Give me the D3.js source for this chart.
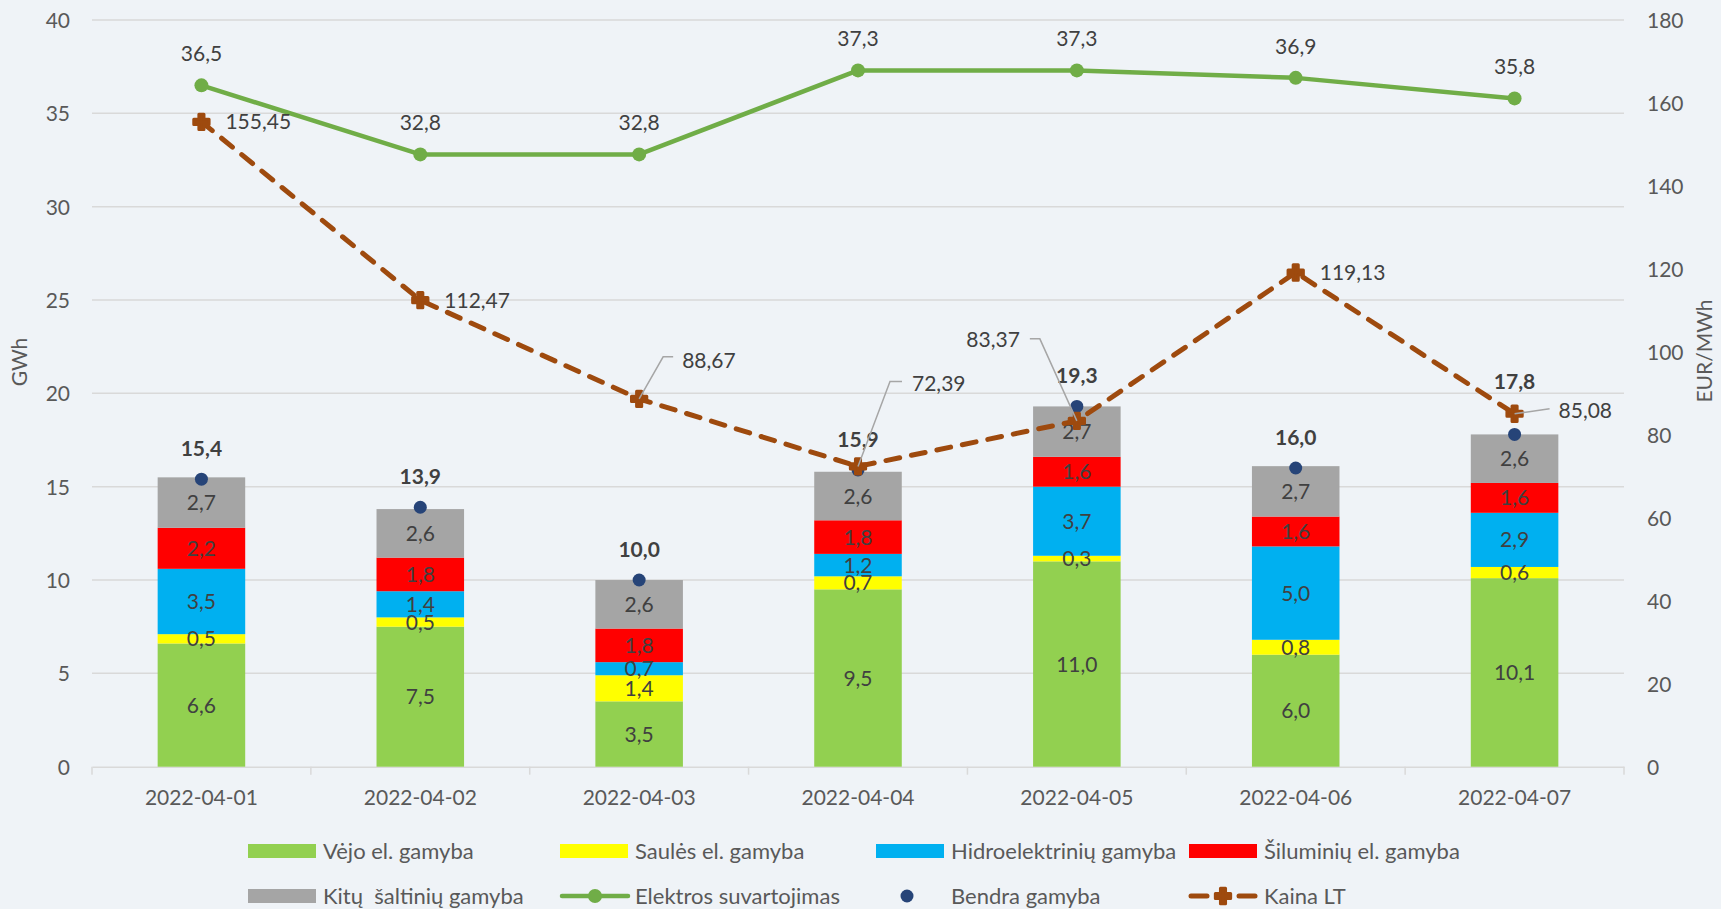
<!DOCTYPE html>
<html>
<head>
<meta charset="utf-8">
<script src="https://cdn.jsdelivr.net/npm/d3@7"></script>
<style>
  html, body { margin: 0; padding: 0; background: #eff3f7; }
  svg text { font-family: Lato, "Open Sans", sans-serif; white-space: pre; }
</style>
</head>
<body>
<svg id="chart"></svg>
<script>
var dates = ["2022-04-01", "2022-04-02", "2022-04-03", "2022-04-04", "2022-04-05", "2022-04-06", "2022-04-07"];
var vejo = [6.6, 7.5, 3.5, 9.5, 11.0, 6.0, 10.1];
var saules = [0.5, 0.5, 1.4, 0.7, 0.3, 0.8, 0.6];
var hidro = [3.5, 1.4, 0.7, 1.2, 3.7, 5.0, 2.9];
var siluminiu = [2.2, 1.8, 1.8, 1.8, 1.6, 1.6, 1.6];
var kitu = [2.7, 2.6, 2.6, 2.6, 2.7, 2.7, 2.6];
var bendra = [15.4, 13.9, 10.0, 15.9, 19.3, 16.0, 17.8];
var suvartojimas = [36.5, 32.8, 32.8, 37.3, 37.3, 36.9, 35.8];
var kaina = [155.45, 112.47, 88.67, 72.39, 83.37, 119.13, 85.08];
var leftTicks = [0, 5, 10, 15, 20, 25, 30, 35, 40];
var rightTicks = [0, 20, 40, 60, 80, 100, 120, 140, 160, 180];

var seriesNames = ["Vėjo el. gamyba", "Saulės el. gamyba", "Hidroelektrinių gamyba", "Šiluminių el. gamyba", "Kitų  šaltinių gamyba"];
var seriesColors = ["#92d050", "#ffff00", "#00b0f0", "#ff0000", "#a5a5a5"];

var width = 1721, height = 909;
var svg = d3.select("#chart").attr("width", width).attr("height", height);
svg.append("rect").attr("width", width).attr("height", height).attr("fill", "#eff3f7");

var plotL = 92, plotR = 1624, plotT = 20, plotB = 766.7;
var x = d3.scaleBand().domain(dates).range([plotL, plotR]).paddingInner(0.6).paddingOuter(0.3);
var y = d3.scaleLinear().domain([0, 40]).range([plotB, plotT]);
var y2 = d3.scaleLinear().domain([0, 180]).range([plotB, plotT]);
var cx = function(d) { return x(d) + x.bandwidth() / 2; };
var fmt1 = function(v) { return d3.format(".1f")(v).replace(".", ","); };
var fmt2 = function(v) { return d3.format(".2f")(v).replace(".", ","); };

// gridlines
svg.append("g").selectAll("line").data(leftTicks.slice(1)).enter().append("line")
  .attr("x1", plotL).attr("x2", plotR)
  .attr("y1", function(d) { return y(d); }).attr("y2", function(d) { return y(d); })
  .attr("stroke", "#d9d9d9").attr("stroke-width", 1.5);

// axes
var yAxis = svg.append("g").attr("transform", "translate(" + (plotL - 22) + ",0)")
  .call(d3.axisLeft(y).tickValues(leftTicks).tickSize(0).tickFormat(d3.format("d")));
var y2Axis = svg.append("g").attr("transform", "translate(" + (plotR + 23) + ",0)")
  .call(d3.axisRight(y2).tickValues(rightTicks).tickSize(0).tickFormat(d3.format("d")));
[yAxis, y2Axis].forEach(function(a) {
  a.select(".domain").remove();
  a.selectAll("text").attr("fill", "#595959").style("font-size", "21px").attr("dy", "0.35em").attr("x", 0);
});

var xAxis = svg.append("g").attr("transform", "translate(0," + plotB + ")")
  .call(d3.axisBottom(x).tickSize(0));
xAxis.select(".domain").attr("stroke", "#d9d9d9").attr("stroke-width", 1.5);
xAxis.selectAll("text").attr("fill", "#595959").style("font-size", "21px").attr("y", 38).attr("dy", "0");
var bounds = d3.range(dates.length + 1).map(function(i) { return plotL + i * x.step(); });
svg.append("g").selectAll("line").data(bounds).enter().append("line")
  .attr("x1", function(d) { return d; }).attr("x2", function(d) { return d; })
  .attr("y1", plotB).attr("y2", plotB + 8)
  .attr("stroke", "#d9d9d9").attr("stroke-width", 1.5);

svg.append("text").attr("transform", "translate(27,362) rotate(-90)")
  .attr("text-anchor", "middle").attr("fill", "#595959").style("font-size", "21px").text("GWh");
svg.append("text").attr("transform", "translate(1712,351) rotate(-90)")
  .attr("text-anchor", "middle").attr("fill", "#595959").style("font-size", "21px").text("EUR/MWh");

// stacked bars
var rows = dates.map(function(d, i) {
  return { date: d, s0: vejo[i], s1: saules[i], s2: hidro[i], s3: siluminiu[i], s4: kitu[i] };
});
var stack = d3.stack().keys(["s0", "s1", "s2", "s3", "s4"])(rows);
var layer = svg.append("g").selectAll("g").data(stack).enter().append("g")
  .attr("fill", function(d, i) { return seriesColors[i]; });
layer.selectAll("rect").data(function(d) { return d; }).enter().append("rect")
  .attr("x", function(d) { return x(d.data.date); })
  .attr("width", x.bandwidth())
  .attr("y", function(d) { return y(d[1]); })
  .attr("height", function(d) { return y(d[0]) - y(d[1]); });
var labelLayer = svg.append("g").selectAll("g").data(stack).enter().append("g");
labelLayer.selectAll("text").data(function(d) { return d; }).enter().append("text")
  .attr("x", function(d) { return cx(d.data.date); })
  .attr("y", function(d) { return (y(d[0]) + y(d[1])) / 2; })
  .attr("dy", "0.36em")
  .attr("text-anchor", "middle").attr("fill", "#404040").style("font-size", "21px")
  .text(function(d) { return fmt1(d[1] - d[0]); });

// consumption line
var gLine = d3.line().x(function(d, i) { return cx(dates[i]); }).y(function(d) { return y(d); });
svg.append("path").datum(suvartojimas).attr("d", gLine)
  .attr("fill", "none").attr("stroke", "#70ad47").attr("stroke-width", 4.5).attr("stroke-linejoin", "round");
svg.append("g").selectAll("circle").data(suvartojimas).enter().append("circle")
  .attr("cx", function(d, i) { return cx(dates[i]); }).attr("cy", function(d) { return y(d); })
  .attr("r", 7).attr("fill", "#70ad47");
svg.append("g").selectAll("text").data(suvartojimas).enter().append("text")
  .attr("x", function(d, i) { return cx(dates[i]); }).attr("y", function(d) { return y(d) - 24; })
  .attr("text-anchor", "middle").attr("fill", "#404040").style("font-size", "21px")
  .text(fmt1);

// total production dots (last label sits higher to clear the price marker)
var totalLift = [23, 23, 23, 23, 23, 23, 45];
svg.append("g").selectAll("circle").data(bendra).enter().append("circle")
  .attr("cx", function(d, i) { return cx(dates[i]); }).attr("cy", function(d) { return y(d); })
  .attr("r", 6.5).attr("fill", "#264478");
svg.append("g").selectAll("text").data(bendra).enter().append("text")
  .attr("x", function(d, i) { return cx(dates[i]); }).attr("y", function(d, i) { return y(d) - totalLift[i]; })
  .attr("text-anchor", "middle").attr("fill", "#404040").style("font-size", "21px").style("font-weight", "bold")
  .text(fmt1);

// price line
var pLine = d3.line().x(function(d, i) { return cx(dates[i]); }).y(function(d) { return y2(d); });
var priceColor = "#9e4a0e";
svg.append("path").datum(kaina).attr("d", pLine)
  .attr("fill", "none").attr("stroke", priceColor).attr("stroke-width", 5)
  .attr("stroke-dasharray", "14,12").attr("stroke-linecap", "round");
var cross = d3.symbol().type(d3.symbolCross).size(130);
svg.append("g").selectAll("path").data(kaina).enter().append("path")
  .attr("transform", function(d, i) { return "translate(" + cx(dates[i]) + "," + y2(d) + ")"; })
  .attr("d", cross).attr("fill", priceColor).attr("stroke", priceColor).attr("stroke-width", 3).attr("stroke-linejoin", "round");

// price labels: label offset and optional leader line, relative to the point
var priceCallouts = [
  { tx: 24, ty: 0, anchor: "start" },
  { tx: 24, ty: 0, anchor: "start" },
  { tx: 43, ty: -38, anchor: "start", leader: [[24, -42], [34, -42]] },
  { tx: 54, ty: -83, anchor: "start", leader: [[32, -85], [44, -85]] },
  { tx: -57, ty: -81, anchor: "end", leader: [[-37, -82], [-47, -82]] },
  { tx: 24, ty: 0, anchor: "start" },
  { tx: 44, ty: -3, anchor: "start", leader: [[35, -5]] }
];
var pl = svg.append("g");
kaina.forEach(function(v, i) {
  var px = cx(dates[i]), py = y2(v), c = priceCallouts[i];
  if (c.leader) {
    var pts = [[px, py]].concat(c.leader.map(function(p) { return [px + p[0], py + p[1]]; }));
    pl.append("path").attr("d", d3.line()(pts)).attr("fill", "none").attr("stroke", "#a6a6a6").attr("stroke-width", 1.5);
  }
  pl.append("text").attr("x", px + c.tx).attr("y", py + c.ty).attr("dy", "0.36em")
    .attr("text-anchor", c.anchor).attr("fill", "#404040").style("font-size", "21px")
    .text(fmt2(v));
});

// legend
var legendCols = [248, 560, 876, 1189];
var legendRows = [851, 896];
var legendItems = seriesNames.map(function(n, i) { return { name: n, type: "rect", color: seriesColors[i] }; })
  .concat([{ name: "Elektros suvartojimas", type: "gline" }, { name: "Bendra gamyba", type: "dot" }, { name: "Kaina LT", type: "pline" }]);
var lg = svg.append("g").selectAll("g").data(legendItems).enter().append("g")
  .attr("transform", function(d, i) { return "translate(" + legendCols[i % 4] + "," + legendRows[Math.floor(i / 4)] + ")"; });
lg.each(function(d) {
  var g = d3.select(this);
  if (d.type == "rect") {
    g.append("rect").attr("x", 0).attr("y", -7).attr("width", 68).attr("height", 14).attr("fill", d.color);
  } else if (d.type == "gline") {
    g.append("line").attr("x1", 2).attr("x2", 68).attr("stroke", "#70ad47").attr("stroke-width", 4.5).attr("stroke-linecap", "round");
    g.append("circle").attr("cx", 35).attr("r", 7).attr("fill", "#70ad47");
  } else if (d.type == "dot") {
    g.append("circle").attr("cx", 31).attr("r", 6.5).attr("fill", "#264478");
  } else {
    g.append("line").attr("x1", 2).attr("x2", 18).attr("stroke", priceColor).attr("stroke-width", 5).attr("stroke-linecap", "round");
    g.append("line").attr("x1", 50).attr("x2", 66).attr("stroke", priceColor).attr("stroke-width", 5).attr("stroke-linecap", "round");
    g.append("path").attr("transform", "translate(34,0)").attr("d", cross)
      .attr("fill", priceColor).attr("stroke", priceColor).attr("stroke-width", 3).attr("stroke-linejoin", "round");
  }
  g.append("text").attr("x", 75).attr("dy", "0.36em").attr("fill", "#595959").style("font-size", "22px").text(d.name);
});
</script>
</body>
</html>
